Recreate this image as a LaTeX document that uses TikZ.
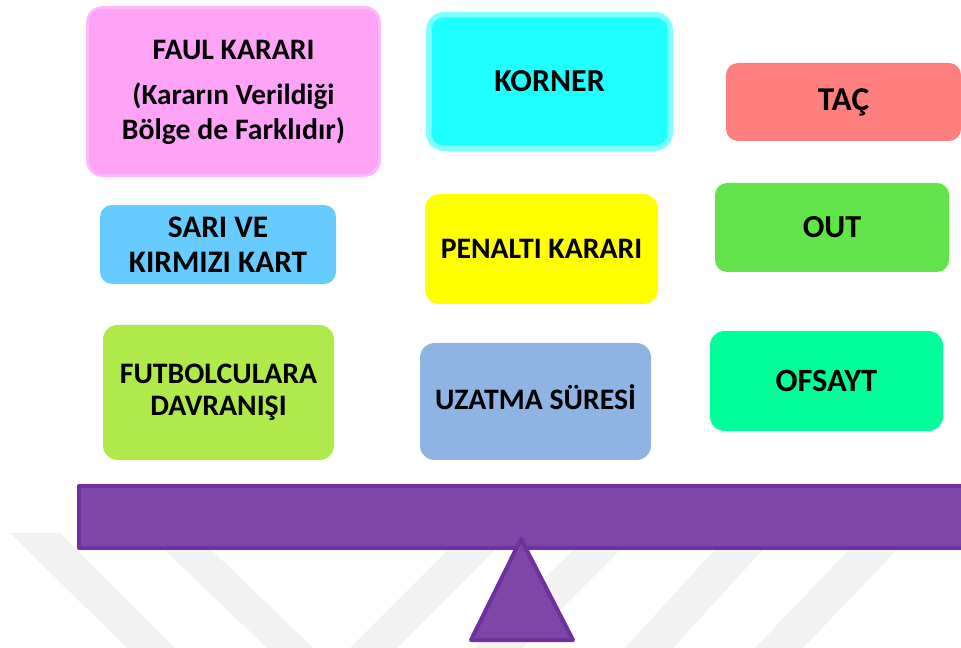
\documentclass[tikz,border=0pt]{standalone}
\usepackage{fontspec}
\setmainfont{Carlito}
\usepackage{tikz}
\usepackage{xcolor}
\usetikzlibrary{calc}

\definecolor{faulfill}{HTML}{FFA3F7}
\definecolor{fauledge}{HTML}{FFB8F9}
\definecolor{kornerfill}{HTML}{1EFFFF}
\definecolor{korneredge}{HTML}{80FFFF}
\definecolor{tacfill}{HTML}{FF7F7F}
\definecolor{sarifill}{HTML}{66CCFF}
\definecolor{penaltifill}{HTML}{FFFF00}
\definecolor{outfill}{HTML}{62E34A}
\definecolor{futbolfill}{HTML}{B0EA4A}
\definecolor{uzatmafill}{HTML}{8EB4E3}
\definecolor{ofsaytfill}{HTML}{00FF99}
\definecolor{beamfill}{HTML}{7E46A8}
\definecolor{beamedge}{HTML}{7030A0}
\definecolor{stripegray}{HTML}{F2F2F2}

\begin{document}
\begin{tikzpicture}[line cap=round,line join=round,x=0.75pt,y=-0.75pt,
    card/.style={rectangle,rounded corners=11pt,align=center,inner sep=0pt,
        text=black,font=\bfseries\fontsize{22.3}{26}\selectfont},
    stripe/.style={fill=stripegray,draw=none},
    beam/.style={fill=beamfill,draw=beamedge,line width=3pt}]
                \useasboundingbox (0,0) rectangle (961,648);
                \clip (0,0) rectangle (961,648);
                % faint stripes in the back
                \fill [stripe] (10,533)-- (60,533)-- (175,648)-- (127,648)-- cycle;
                \fill [stripe] (147,533)-- (194,533)-- (313,648)-- (267,648)-- cycle;
                \fill [stripe] (465,533)-- (512,533)-- (397,648)-- (350,648)-- cycle;
                \fill [stripe] (590,533)-- (637,533)-- (522,648)-- (475,648)-- cycle;
                \fill [stripe] (730,533)-- (778,533)-- (673,648)-- (625,648)-- cycle;
                \fill [stripe] (865,533)-- (913,533)-- (803,648)-- (755,648)-- cycle;
                % the cards
                \node [card,fill=faulfill,draw=fauledge,line width=2pt,minimum width=219pt,minimum height=126pt]
                    (faul) at (233.5,91.5) {};
                \node [align=center,inner sep=0pt,font=\bfseries\fontsize{22.3}{26}\selectfont]
                    (faultext) at (233.5,92.5) {FAUL KARARI\\[7.5pt]\fontsize{21.9}{22.5}\selectfont(Kararın Verildiği\\Bölge de Farklıdır)};
                \node [card,fill=kornerfill,draw=korneredge,line width=4pt,minimum width=181pt,minimum height=100pt,
                    font=\bfseries\fontsize{24}{26}\selectfont] (korner) at (549.5,81.5) {KORNER};
                \node [card,fill=tacfill,minimum width=176.25pt,minimum height=58.5pt,rounded corners=9pt,
                    font=\bfseries\fontsize{25}{26}\selectfont] (tac) at (843.5,102) {TAÇ};
                \node [card,fill=sarifill,minimum width=177pt,minimum height=59.25pt,rounded corners=9pt,
                    font=\bfseries\fontsize{23.5}{26.25}\selectfont] (sari) at (218,244.5) {SARI VE\\KIRMIZI KART};
                \node [card,fill=penaltifill,minimum width=174.75pt,minimum height=82.5pt]
                    (penalti) at (541.5,249) {PENALTI KARARI};
                \node [card,fill=outfill,minimum width=175.5pt,minimum height=66.75pt,rounded corners=9pt,
                    font=\bfseries\fontsize{24}{26}\selectfont] (out) at (832,227.5) {OUT};
                \node [card,fill=futbolfill,minimum width=173.25pt,minimum height=101.25pt,
                    font=\bfseries\fontsize{22.3}{24}\selectfont] (futbol) at (218.5,392.5) {FUTBOLCULARA\\DAVRANIŞI};
                \node [card,fill=uzatmafill,minimum width=173.25pt,minimum height=87.75pt]
                    (uzatma) at (535.5,401.5) {};
                \node [inner sep=0pt,font=\bfseries\fontsize{22.3}{26}\selectfont]
                    (uzatmatext) at (535.5,397) {UZATMA SÜRESİ};
                \node [card,fill=ofsaytfill,minimum width=174.75pt,minimum height=75pt,
                    font=\bfseries\fontsize{24.4}{26}\selectfont] (ofsayt) at (826.5,381) {OFSAYT};
                % the balance
                \draw [beam] (79,486) rectangle (980,548);
                \draw [beam] (521,539)-- (573,640)-- (471,640)-- cycle;
\end{tikzpicture}
\end{document}
